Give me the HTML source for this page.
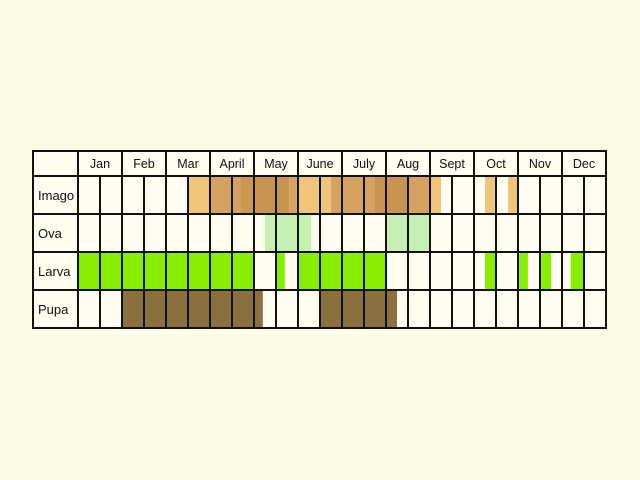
<!DOCTYPE html>
<html><head><meta charset="utf-8"><style>
html,body{margin:0;padding:0;background:#fcf9e6;}
svg{display:block;font-family:"Liberation Sans",sans-serif;}
</style></head><body>
<svg id="chart" width="640" height="480"></svg>
<script>
const months=["Jan","Feb","Mar","April","May","June","July","Aug","Sept","Oct","Nov","Dec"];
const stages=["Imago","Ova","Larva","Pupa"];
// segments: [stageIndex, startHalfMonth, endHalfMonth, color]
const imagoSegs=[[0,5,6,"#efc57a"],[0,6,8.4,"#d6a260"],[0,7.4,8,"#cc9752"],[0,8,9.6,"#c99350"],[0,9.6,10,"#d6a260"],[0,10,11.5,"#efc57a"],[0,11.5,13.5,"#d6a260"],[0,13.5,15,"#c99350"],[0,15,16,"#d6a260"],[0,16,16.5,"#efc57a"],[0,18.5,19,"#efc57a"],[0,19.55,20,"#efc57a"]];
const ovaSegs=[[1,8.5,10.6,"#c6efb2"],[1,14,16,"#c6efb2"]];
const larvaSegs=[[2,0,8,"#88ee00"],[2,9,9.4,"#88ee00"],[2,10,14,"#88ee00"],[2,18.5,19,"#88ee00"],[2,20.05,20.45,"#88ee00"],[2,21.05,21.5,"#88ee00"],[2,22.4,23,"#88ee00"]];
const pupaSegs=[[3,2,8.4,"#8b7040"],[3,11,14.5,"#8b7040"]];
const NS="http://www.w3.org/2000/svg";
const svg=document.getElementById("chart");
const X0=78,HW=22,LEFT=33,TOP=151,HEAD=25,ROWH=[38,38,38,38];
function x(u){return X0+u*HW;}
function rowTop(i){let y=TOP+HEAD;for(let k=0;k<i;k++)y+=ROWH[k];return y;}
function el(t,a){const e=document.createElementNS(NS,t);for(const k in a)e.setAttribute(k,a[k]);svg.appendChild(e);return e;}
const bottom=rowTop(4),right=x(24);
let bg=el("rect",{x:LEFT,y:TOP,width:right-LEFT,height:bottom-TOP,fill:"#fffdf0"});


[imagoSegs,ovaSegs,larvaSegs,pupaSegs].forEach(arr=>arr.forEach(s=>{
  const r=el("rect",{x:x(s[1]),y:rowTop(s[0]),width:x(s[2])-x(s[1]),height:ROWH[s[0]],fill:s[3]});
  
  
}));
// grid
for(let u=0;u<=24;u++){
  const l=el("line",{x1:x(u),x2:x(u),y1:(u%2===0?TOP:TOP+HEAD),y2:bottom,stroke:"#111","stroke-width":2});
  
  
}
for(let i=1;i<=4;i++){
  const l=el("line",{x1:LEFT,x2:right,y1:rowTop(i)-0,y2:rowTop(i),stroke:"#111","stroke-width":2});
  
  
}
const hl=el("line",{x1:LEFT,x2:right,y1:TOP+HEAD,y2:TOP+HEAD,stroke:"#111","stroke-width":2});


const ob=el("rect",{x:LEFT,y:TOP,width:right-LEFT,height:bottom-TOP,fill:"none",stroke:"#111","stroke-width":2});


months.forEach((m,i)=>{
  const t=el("text",{x:x(i*2+1),y:TOP+17,"text-anchor":"middle","font-size":12.5,fill:"#111"});
  t.textContent=m;
  
  
});
stages.forEach((s,i)=>{
  const t=el("text",{x:38,y:rowTop(i)+ROWH[i]/2+5,"font-size":13,fill:"#111"});
  t.textContent=s;
  
  
});
</script>
</body></html>
